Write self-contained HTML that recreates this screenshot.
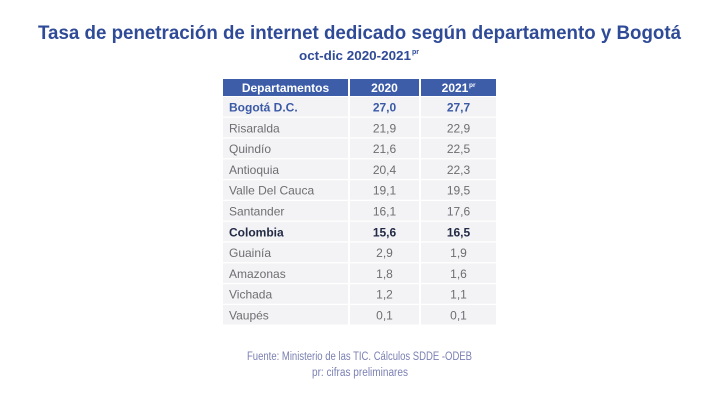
<!DOCTYPE html>
<html>
<head>
<meta charset="utf-8">
<style>
  html,body{margin:0;padding:0;background:#fff;}
  svg{display:block;}
  text{font-family:"Liberation Sans", Arial, sans-serif;}
</style>
</head>
<body>
<svg width="720" height="400" viewBox="0 0 720 400" xmlns="http://www.w3.org/2000/svg">
  <rect width="720" height="400" fill="#ffffff"/>
  <!-- Title -->
  <text x="38" y="39" font-size="19.5" font-weight="bold" fill="#2f4b97" textLength="643" lengthAdjust="spacingAndGlyphs">Tasa de penetración de internet dedicado según departamento y Bogotá</text>
  <text x="299" y="60" font-size="13" font-weight="bold" fill="#2f4b97" textLength="112" lengthAdjust="spacingAndGlyphs">oct-dic 2020-2021</text>
  <text x="412" y="54" font-size="7" font-weight="bold" fill="#2f4b97">pr</text>

  <!-- Header -->
  <rect x="223" y="79" width="125" height="17" fill="#3d5da9"/>
  <rect x="350" y="79" width="69" height="17" fill="#3d5da9"/>
  <rect x="421" y="79" width="75" height="17" fill="#3d5da9"/>
  <text x="285.5" y="92" font-size="12" font-weight="bold" fill="#ffffff" text-anchor="middle">Departamentos</text>
  <text x="384.5" y="92" font-size="12" font-weight="bold" fill="#ffffff" text-anchor="middle">2020</text>
  <text x="455" y="92" font-size="12" font-weight="bold" fill="#ffffff" text-anchor="middle">2021</text>
  <text x="469" y="87" font-size="6.5" font-weight="bold" fill="#ffffff">pr</text>

  <!-- Rows -->
  <g fill="#f3f3f5">
    <rect x="223" y="97" width="125" height="19.5"/><rect x="350" y="97" width="69" height="19.5"/><rect x="421" y="97" width="75" height="19.5"/>
    <rect x="223" y="117.8" width="125" height="19.5"/><rect x="350" y="117.8" width="69" height="19.5"/><rect x="421" y="117.8" width="75" height="19.5"/>
    <rect x="223" y="138.6" width="125" height="19.5"/><rect x="350" y="138.6" width="69" height="19.5"/><rect x="421" y="138.6" width="75" height="19.5"/>
    <rect x="223" y="159.4" width="125" height="19.5"/><rect x="350" y="159.4" width="69" height="19.5"/><rect x="421" y="159.4" width="75" height="19.5"/>
    <rect x="223" y="180.2" width="125" height="19.5"/><rect x="350" y="180.2" width="69" height="19.5"/><rect x="421" y="180.2" width="75" height="19.5"/>
    <rect x="223" y="201" width="125" height="19.5"/><rect x="350" y="201" width="69" height="19.5"/><rect x="421" y="201" width="75" height="19.5"/>
    <rect x="223" y="221.8" width="125" height="19.5"/><rect x="350" y="221.8" width="69" height="19.5"/><rect x="421" y="221.8" width="75" height="19.5"/>
    <rect x="223" y="242.6" width="125" height="19.5"/><rect x="350" y="242.6" width="69" height="19.5"/><rect x="421" y="242.6" width="75" height="19.5"/>
    <rect x="223" y="263.4" width="125" height="19.5"/><rect x="350" y="263.4" width="69" height="19.5"/><rect x="421" y="263.4" width="75" height="19.5"/>
    <rect x="223" y="284.2" width="125" height="19.5"/><rect x="350" y="284.2" width="69" height="19.5"/><rect x="421" y="284.2" width="75" height="19.5"/>
    <rect x="223" y="305" width="125" height="19.5"/><rect x="350" y="305" width="69" height="19.5"/><rect x="421" y="305" width="75" height="19.5"/>
  </g>

  <g font-size="12">
    <!-- Bogotá -->
    <g fill="#3a5aa6" font-weight="bold">
      <text x="229" y="111.5">Bogotá D.C.</text>
      <text x="384.5" y="111.5" text-anchor="middle">27,0</text>
      <text x="458.5" y="111.5" text-anchor="middle">27,7</text>
    </g>
    <g fill="#6e6e72">
      <text x="229" y="132.3">Risaralda</text>
      <text x="384.5" y="132.3" text-anchor="middle">21,9</text>
      <text x="458.5" y="132.3" text-anchor="middle">22,9</text>

      <text x="229" y="153.1">Quindío</text>
      <text x="384.5" y="153.1" text-anchor="middle">21,6</text>
      <text x="458.5" y="153.1" text-anchor="middle">22,5</text>

      <text x="229" y="173.9">Antioquia</text>
      <text x="384.5" y="173.9" text-anchor="middle">20,4</text>
      <text x="458.5" y="173.9" text-anchor="middle">22,3</text>

      <text x="229" y="194.7">Valle Del Cauca</text>
      <text x="384.5" y="194.7" text-anchor="middle">19,1</text>
      <text x="458.5" y="194.7" text-anchor="middle">19,5</text>

      <text x="229" y="215.5">Santander</text>
      <text x="384.5" y="215.5" text-anchor="middle">16,1</text>
      <text x="458.5" y="215.5" text-anchor="middle">17,6</text>
    </g>
    <g fill="#232a45" font-weight="bold">
      <text x="229" y="236.3">Colombia</text>
      <text x="384.5" y="236.3" text-anchor="middle">15,6</text>
      <text x="458.5" y="236.3" text-anchor="middle">16,5</text>
    </g>
    <g fill="#6e6e72">
      <text x="229" y="257.1">Guainía</text>
      <text x="384.5" y="257.1" text-anchor="middle">2,9</text>
      <text x="458.5" y="257.1" text-anchor="middle">1,9</text>

      <text x="229" y="277.9">Amazonas</text>
      <text x="384.5" y="277.9" text-anchor="middle">1,8</text>
      <text x="458.5" y="277.9" text-anchor="middle">1,6</text>

      <text x="229" y="298.7">Vichada</text>
      <text x="384.5" y="298.7" text-anchor="middle">1,2</text>
      <text x="458.5" y="298.7" text-anchor="middle">1,1</text>

      <text x="229" y="319.5">Vaupés</text>
      <text x="384.5" y="319.5" text-anchor="middle">0,1</text>
      <text x="458.5" y="319.5" text-anchor="middle">0,1</text>
    </g>
  </g>

  <!-- Footer -->
  <text x="247" y="360" font-size="11.5" fill="#7b80b3" textLength="225" lengthAdjust="spacingAndGlyphs">Fuente: Ministerio de las TIC. Cálculos SDDE -ODEB</text>
  <text x="312" y="376" font-size="11.5" fill="#7b80b3" textLength="96" lengthAdjust="spacingAndGlyphs">pr: cifras preliminares</text>
</svg>
</body>
</html>
